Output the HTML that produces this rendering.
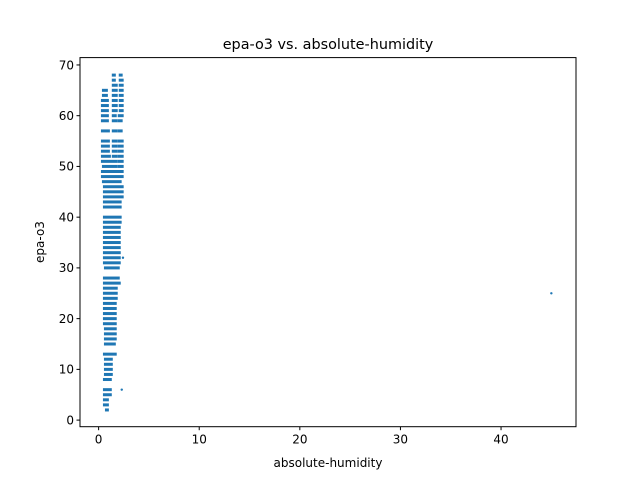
<!DOCTYPE html>
<html><head><meta charset="utf-8"><style>
body{margin:0;background:#fff}
svg text{font-family:"DejaVu Sans","Liberation Sans",sans-serif;fill:#000}
</style></head><body>
<svg width="640" height="480" xmlns="http://www.w3.org/2000/svg">
<rect width="640" height="480" fill="#fff"/>
<text x="328" y="49" font-size="14.4" text-anchor="middle">epa-o3 vs. absolute-humidity</text>
<g id="marks"></g>
<g id="axes"></g>
<text x="328" y="467" font-size="12" text-anchor="middle">absolute-humidity</text>
<text x="44" y="242" font-size="12" text-anchor="middle" transform="rotate(-90 44 242)">epa-o3</text>
</svg>
<script>
// Each segment: [epa-o3 value, humidity start, humidity end] (dense runs of points)
const segments = [
[68,1.41,1.71],[68,2.10,2.39],
[67,1.41,1.71],[67,2.10,2.49],
[66,1.41,1.90],[66,2.10,2.49],
[65,0.43,0.92],[65,1.41,1.90],[65,2.10,2.49],
[64,0.43,0.92],[64,1.41,1.90],[64,2.10,2.49],
[63,0.33,1.02],[63,1.41,1.90],[63,2.10,2.49],
[62,0.33,1.02],[62,1.41,1.90],[62,2.10,2.49],
[61,0.33,1.02],[61,1.41,1.90],[61,2.10,2.49],
[60,0.33,1.02],[60,1.41,1.80],[60,2.00,2.49],
[59,0.33,1.02],[59,1.41,1.90],[59,2.00,2.39],
[57,0.33,1.12],[57,1.41,1.90],[57,2.00,2.39],
[55,0.33,1.12],[55,1.41,1.90],[55,2.00,2.49],
[54,0.33,1.12],[54,1.41,1.90],[54,2.00,2.49],
[53,0.33,1.12],[53,1.41,1.90],[53,2.00,2.49],
[52,0.33,1.22],[52,1.41,1.90],[52,2.00,2.49],
[51,0.33,1.90],[51,2.00,2.49],
[50,0.43,1.90],[50,2.00,2.49],
[49,0.33,2.49],[48,0.33,2.49],[47,0.43,2.29],[46,0.53,2.49],[45,0.53,2.49],[44,0.53,2.49],
[43,0.53,2.29],[42,0.53,2.29],[40,0.53,2.29],[39,0.53,2.29],[38,0.53,2.20],[37,0.53,2.20],
[36,0.53,2.20],[35,0.53,2.20],[34,0.53,2.20],[33,0.53,2.20],[32,0.53,2.20],[31,0.53,2.20],
[30,0.63,2.10],[28,0.53,2.10],[27,0.53,2.20],[26,0.53,1.90],[25,0.53,1.90],[24,0.53,1.90],
[23,0.53,1.80],[22,0.53,1.80],[21,0.53,1.80],[20,0.53,1.80],[19,0.53,1.80],[18,0.63,1.80],
[17,0.63,1.80],[16,0.63,1.80],[15,0.63,1.71],[13,0.53,1.80],[12,0.63,1.41],[11,0.63,1.41],
[10,0.63,1.41],[9,0.63,1.41],[8,0.53,1.31],[6,0.53,1.31],[5,0.53,1.31],[4,0.53,1.02],
[3,0.53,1.02],[2,0.73,1.02]
];
const pointX = [2.42, 2.30, 45.0];
const pointY = [32, 6, 25];
const xTicks = [0,10,20,30,40];
const yTicks = [0,10,20,30,40,50,60,70];

const L=80,R=576,T=57.6,B=426.7;
const xMin=-1.85, xMax=47.45, yMin=-1.3, yMax=71.45;
const sx=v=>L+(v-xMin)/(xMax-xMin)*(R-L);
const sy=v=>B-(v-yMin)/(yMax-yMin)*(B-T);
const NS="http://www.w3.org/2000/svg";
const marks=document.getElementById('marks');
segments.forEach(s=>{
  const r=document.createElementNS(NS,'rect');
  r.setAttribute('x',sx(s[1])-1);r.setAttribute('width',Math.max(2,sx(s[2])-sx(s[1])+1));
  r.setAttribute('y',sy(s[0])-1.5);r.setAttribute('height',3);r.setAttribute('fill','#1f77b4');
  
  
  marks.appendChild(r);
});
pointX.forEach((x,i)=>{
  const c=document.createElementNS(NS,'circle');
  c.setAttribute('cx',sx(x));c.setAttribute('cy',sy(pointY[i]));c.setAttribute('r',1.2);c.setAttribute('fill','#1f77b4');
  
  
  marks.appendChild(c);
});
const ax=document.getElementById('axes');
let h='<rect x="'+L+'" y="'+T+'" width="'+(R-L)+'" height="'+(B-T)+'" fill="none" stroke="#000" stroke-width="1"/>';
xTicks.forEach(t=>{const x=sx(t);h+='<line x1="'+x+'" x2="'+x+'" y1="'+B+'" y2="'+(B+3.5)+'" stroke="#000"/><text x="'+x+'" y="'+(B+17)+'" font-size="12" text-anchor="middle">'+t+'</text>';});
yTicks.forEach(t=>{const y=sy(t);h+='<line x1="'+(L-3.5)+'" x2="'+L+'" y1="'+y+'" y2="'+y+'" stroke="#000"/><text x="'+(L-6)+'" y="'+(y+4.3)+'" font-size="12" text-anchor="end">'+t+'</text>';});
ax.innerHTML=h;


</script>
</body></html>
